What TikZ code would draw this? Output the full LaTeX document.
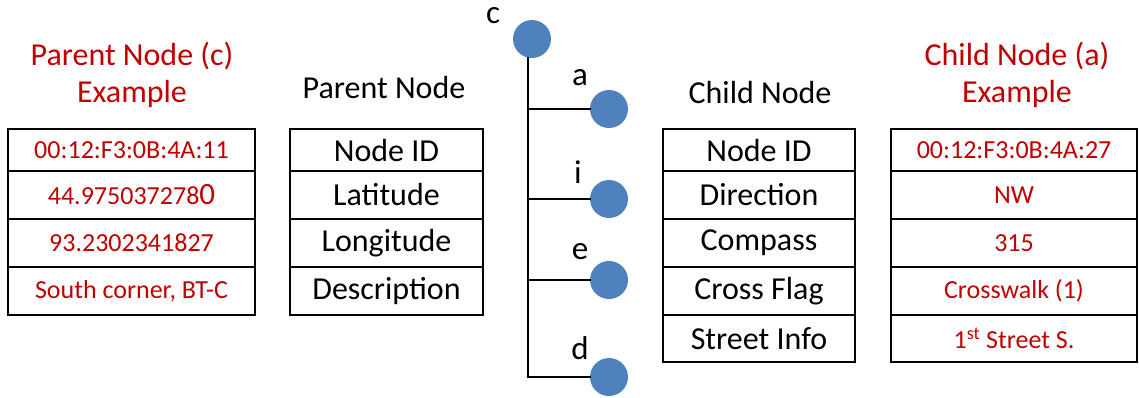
\documentclass[tikz,border=0pt]{standalone}
\usepackage{fontspec}
\setmainfont{Carlito}
\definecolor{exred}{HTML}{C00000}
\definecolor{dotblue}{HTML}{4F81BD}
\begin{document}
\begin{tikzpicture}[x=1pt,y=-1pt,
  cellbox/.style={draw=black, line width=1.6pt, inner sep=0pt, anchor=center,
    font=\fontsize{32}{38}\selectfont},
  redcell/.style={cellbox, text=exred, font=\fontsize{26}{31}\selectfont},
  title/.style={align=center, font=\fontsize{32}{37}\selectfont},
  redtitle/.style={title, text=exred},
  treedot/.style={circle, fill=dotblue, minimum size=38pt, inner sep=0pt},
  treelabel/.style={font=\fontsize{33}{38}\selectfont, inner sep=0pt},
  branch/.style={line width=2.6pt, line cap=rect}]
\useasboundingbox (0,0) rectangle (1139,397);

% ---- parent node example (left) ----
\node[redtitle] (ptitleex) at (132,75) {Parent Node (c)\\Example};
\node[redcell, minimum width=247pt, minimum height=42pt] (pe1) at (131.5,150) {00:12:F3:0B:4A:11};
\node[redcell, minimum width=247pt, minimum height=48pt] (pe2) at (131.5,195) {44.975037278{\fontsize{31}{36}\selectfont 0}};
\node[redcell, minimum width=247pt, minimum height=48pt] (pe3) at (131.5,243) {93.2302341827};
\node[redcell, minimum width=247pt, minimum height=48pt] (pe4) at (131.5,291) {South corner, BT-C};

% ---- parent node fields ----
\node[title] (ptitle) at (384,88) {Parent Node};
\node[cellbox, minimum width=193pt, minimum height=42pt] (pf1) at (386.5,150) {Node ID};
\node[cellbox, minimum width=193pt, minimum height=48pt] (pf2) at (386.5,195) {Latitude};
\node[cellbox, minimum width=193pt, minimum height=48pt] (pf3) at (386.5,243) {Longitude};
\node[cellbox, minimum width=193pt, minimum height=48pt] (pf4) at (386.5,291) {Description};

% ---- tree: parent c with children a, i, e, d ----
\node[treedot] (c) at (532,39) {};
\node[treedot] (a) at (609,109) {};
\node[treedot] (i) at (609,199) {};
\node[treedot] (e) at (609,280) {};
\node[treedot] (d) at (609,377) {};
\coordinate (trunk) at (528,39);
\coordinate (ja) at (528,109);
\coordinate (ji) at (528,199);
\coordinate (je) at (528,280);
\coordinate (jd) at (528,377);
\draw[branch] (c.south -| trunk) -- (jd);
\draw[branch] (ja) -- (a.west);
\draw[branch] (ji) -- (i.west);
\draw[branch] (je) -- (e.west);
\draw[branch] (jd) -- (d.west);
\node[treelabel] (lc) at (493,16) {c};
\node[treelabel] (la) at (580,78) {a};
\node[treelabel] (li) at (578,172) {i};
\node[treelabel] (le) at (580,252) {e};
\node[treelabel] (ld) at (580,348) {d};

% ---- child node fields ----
\node[title] (ctitle) at (760,92) {Child Node};
\node[cellbox, minimum width=192pt, minimum height=42pt] (cf1) at (759,150) {Node ID};
\node[cellbox, minimum width=192pt, minimum height=48pt] (cf2) at (759,195) {Direction};
\node[cellbox, minimum width=192pt, minimum height=48pt] (cf3) at (759,243) {Compass};
\node[cellbox, minimum width=192pt, minimum height=48pt] (cf4) at (759,291) {Cross Flag};
\node[cellbox, minimum width=192pt, minimum height=47pt] (cf5) at (759,338.5) {Street Info};

% ---- child node example (right) ----
\node[redtitle] (ctitleex) at (1017,75) {Child Node (a)\\Example};
\node[redcell, minimum width=246pt, minimum height=42pt] (ce1) at (1014,150) {00:12:F3:0B:4A:27};
\node[redcell, minimum width=246pt, minimum height=48pt] (ce2) at (1014,195) {NW};
\node[redcell, minimum width=246pt, minimum height=48pt] (ce3) at (1014,243) {315};
\node[redcell, minimum width=246pt, minimum height=48pt] (ce4) at (1014,291) {Crosswalk (1)};
\node[redcell, minimum width=246pt, minimum height=47pt] (ce5) at (1014,338.5) {1\textsuperscript{st} Street S.};
\end{tikzpicture}
\end{document}
